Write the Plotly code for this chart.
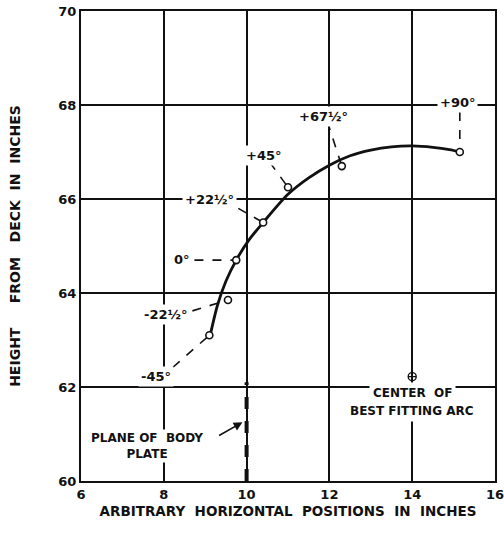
import plotly.graph_objects as go

# ---- data ----
angle_labels = ["-45°", "-22½°", "0°", "+22½°", "+45°", "+67½°", "+90°"]
point_x = [9.1, 9.55, 9.75, 10.4, 11.0, 12.3, 15.15]
point_y = [63.1, 63.85, 64.7, 65.5, 66.25, 66.7, 67.0]

label_x = [7.8, 8.05, 8.45, 9.1, 10.4, 11.85, 15.1]
label_y = [62.22, 63.55, 64.72, 66.0, 66.93, 67.75, 68.05]
leader_x = [8.22, 8.69, 8.74, 9.8, 10.56, 11.95, 15.15]
leader_y = [62.42, 63.62, 64.7, 65.8, 66.78, 67.65, 67.85]

curve_x = [9.12, 9.3, 9.5, 9.75, 10.05, 10.4, 11.0, 11.5, 12.0, 12.5, 13.0, 13.5, 14.0, 14.5, 14.9, 15.15]
curve_y = [63.1, 63.75, 64.25, 64.7, 65.12, 65.5, 66.1, 66.45, 66.72, 66.92, 67.04, 67.11, 67.13, 67.1, 67.05, 67.0]

center_x = [14.0]
center_y = [62.22]

plate_x = [10.0, 10.0]
plate_y = [60.0, 62.1]

x_ticks = [6, 8, 10, 12, 14, 16]
y_ticks = [60, 62, 64, 66, 68, 70]

FONT = "DejaVu Sans"
INK = "#111111"
NB = "\u00a0"

fig = go.Figure()

# leader lines (label -> point)
for i in range(len(point_x)):
    fig.add_trace(go.Scatter(
        x=[leader_x[i], point_x[i]], y=[leader_y[i], point_y[i]],
        mode="lines", line=dict(color=INK, width=1.6, dash="dash"),
        hoverinfo="skip", showlegend=False))

# plane of body plate (dashed vertical)
fig.add_trace(go.Scatter(x=plate_x, y=plate_y, mode="lines",
                         line=dict(color=INK, width=4, dash="dash"),
                         hoverinfo="skip", showlegend=False))

# best fitting arc
fig.add_trace(go.Scatter(x=curve_x, y=curve_y, mode="lines",
                         line=dict(color=INK, width=2.8, shape="spline", smoothing=0.8),
                         hoverinfo="skip", showlegend=False))

# measured points
fig.add_trace(go.Scatter(x=point_x, y=point_y, mode="markers",
                         marker=dict(symbol="circle", size=7, color="white",
                                     line=dict(color=INK, width=1.6)),
                         text=angle_labels, hoverinfo="text", showlegend=False))

# center of arc
fig.add_trace(go.Scatter(x=center_x, y=center_y, mode="markers",
                         marker=dict(symbol="circle-cross-open", size=8, color=INK,
                                     line=dict(color=INK, width=1.4)),
                         hoverinfo="skip", showlegend=False))

annotations = []
for i in range(len(angle_labels)):
    annotations.append(dict(x=label_x[i], y=label_y[i], xref="x", yref="y",
                            text="<b>" + angle_labels[i] + "</b>", showarrow=False,
                            font=dict(family=FONT, size=13, color=INK),
                            bgcolor="white", borderpad=2))

annotations.append(dict(x=center_x[0], y=61.88, xref="x", yref="y",
                        text="<b>CENTER" + NB * 2 + "OF</b>", showarrow=False,
                        font=dict(family=FONT, size=12, color=INK),
                        bgcolor="white", borderpad=3))
annotations.append(dict(x=center_x[0], y=61.5, xref="x", yref="y",
                        text="<b>BEST FITTING ARC</b>", showarrow=False,
                        font=dict(family=FONT, size=12, color=INK),
                        bgcolor="white", borderpad=3))
annotations.append(dict(x=7.6, y=60.75, xref="x", yref="y",
                        text="<b>PLANE OF" + NB * 2 + "BODY<br>PLATE</b>", showarrow=False,
                        font=dict(family=FONT, size=12, color=INK),
                        bgcolor="white", borderpad=1))
annotations.append(dict(x=9.9, y=61.25, xref="x", yref="y",
                        ax=9.3, ay=60.95, axref="x", ayref="y",
                        text="", showarrow=True, arrowhead=2, arrowsize=1.1,
                        arrowwidth=1.6, arrowcolor=INK))

fig.update_layout(
    width=504, height=533,
    margin=dict(l=81, r=9, t=11, b=52, autoexpand=False),
    paper_bgcolor="white", plot_bgcolor="white",
    font=dict(family=FONT, size=12, color=INK),
    annotations=annotations,
    showlegend=False,
)
x_title = (NB * 2).join(["ARBITRARY", "HORIZONTAL", "POSITIONS", "IN", "INCHES"])
y_title = "HEIGHT" + NB * 5 + "FROM" + NB * 3 + "DECK" + NB * 2 + "IN" + NB * 2 + "INCHES"
fig.update_xaxes(range=[6, 16], tickvals=x_ticks, ticktext=[f"<b>{v}</b>" for v in x_ticks],
                 showgrid=True, gridcolor=INK, gridwidth=1.5, zeroline=False,
                 showline=True, linecolor=INK, linewidth=2.2, mirror=True, ticks="",
                 automargin=False, ticklabeloverflow="allow",
                 tickfont=dict(family=FONT, size=13, color=INK),
                 title=dict(text="<b>" + x_title + "</b>",
                            font=dict(family=FONT, size=13.5, color=INK), standoff=6))
fig.update_yaxes(range=[60, 70], tickvals=y_ticks, ticktext=[f"<b>{v}</b>" for v in y_ticks],
                 showgrid=True, gridcolor=INK, gridwidth=1.5, zeroline=False,
                 showline=True, linecolor=INK, linewidth=2.2, mirror=True, ticks="",
                 automargin=False, ticklabeloverflow="allow",
                 tickfont=dict(family=FONT, size=13, color=INK),
                 title=dict(text="<b>" + y_title + "</b>",
                            font=dict(family=FONT, size=14, color=INK), standoff=34))

fig.write_html("out.html", config={"responsive": False, "displayModeBar": False},
               post_script="document.body.style.margin='0';document.body.style.overflow='hidden';")
